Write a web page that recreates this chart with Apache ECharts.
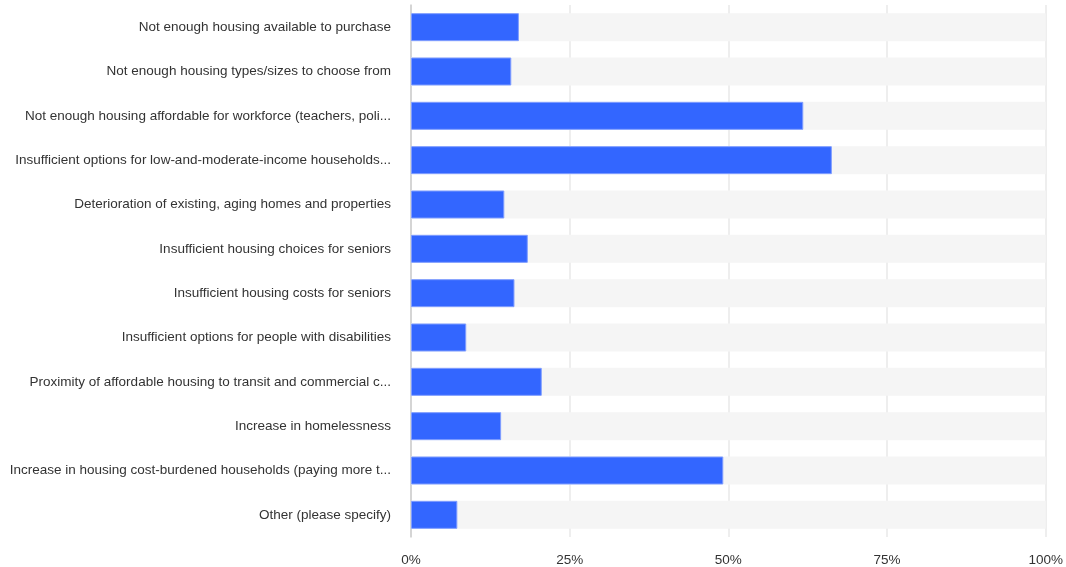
<!DOCTYPE html>
<html>
<head>
<meta charset="utf-8">
<script src="https://cdn.jsdelivr.net/npm/echarts@6/dist/echarts.min.js"></script>
<style>html,body{margin:0;padding:0;background:#fff}#c{width:1066px;height:567px}</style>
</head>
<body>
<div id="c"></div>
<script>
const categories = [
  "Not enough housing available to purchase",
  "Not enough housing types/sizes to choose from",
  "Not enough housing affordable for workforce (teachers, poli...",
  "Insufficient options for low-and-moderate-income households...",
  "Deterioration of existing, aging homes and properties",
  "Insufficient housing choices for seniors",
  "Insufficient housing costs for seniors",
  "Insufficient options for people with disabilities",
  "Proximity of affordable housing to transit and commercial c...",
  "Increase in homelessness",
  "Increase in housing cost-burdened households (paying more t...",
  "Other (please specify)"
];
const values = [17.0, 15.8, 61.8, 66.3, 14.7, 18.4, 16.3, 8.7, 20.6, 14.2, 49.2, 7.3];
const xTicks = [0, 25, 50, 75, 100];

const chart = echarts.init(document.getElementById('c'), null, {renderer: 'canvas'});
chart.setOption({
  animation: false,
  backgroundColor: '#ffffff',
  grid: {left: 411, right: 19, top: 5, bottom: 30, containLabel: false},
  xAxis: {
    type: 'value', min: 0, max: 100, interval: 25, z: 0,
    axisLine: {show: false}, axisTick: {show: false},
    axisLabel: {
      color: '#333', fontSize: 13.5, fontFamily: 'Liberation Sans, Arial, sans-serif', margin: 16,
      formatter: v => xTicks.includes(v) ? v + '%' : ''
    },
    splitLine: {show: true, lineStyle: {color: '#e8e8e8', width: 1.5}}
  },
  yAxis: {
    type: 'category', data: categories, inverse: true, z: 1,
    axisLine: {show: true, lineStyle: {color: '#cccccc', width: 1.5}},
    axisTick: {show: false},
    axisLabel: {color: '#333', fontSize: 13.5, fontFamily: 'Liberation Sans, Arial, sans-serif', margin: 20}
  },
  series: [{
    type: 'bar', data: values, barWidth: 28, z: 5,
    showBackground: true,
    backgroundStyle: {color: '#f5f5f5', opacity: 1},
    itemStyle: {color: '#3366ff', borderColor: '#7f9dff', borderWidth: 1}
  }]
});
</script>
</body>
</html>
